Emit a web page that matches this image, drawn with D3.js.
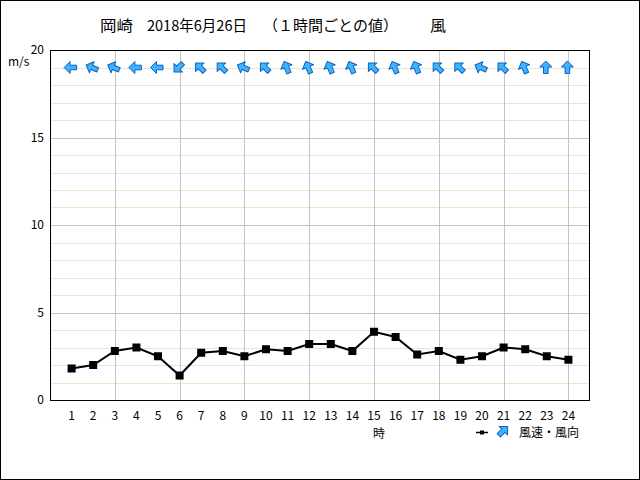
<!DOCTYPE html>
<html><head><meta charset="utf-8">
<script src="https://cdn.jsdelivr.net/npm/d3@7"></script>
<style>body{margin:0;background:#fff}svg{display:block}text{font-family:"Noto Sans CJK JP","DejaVu Sans",sans-serif}</style>
</head><body>
<script>
const hours = d3.range(1, 25);
const speeds = [1.8,2.0,2.8,3.0,2.5,1.4,2.7,2.8,2.5,2.9,2.8,3.2,3.2,2.8,3.9,3.6,2.6,2.8,2.3,2.5,3.0,2.9,2.5,2.3];
const directions = ["E","ESE","ESE","E","E","NE","SE","SE","ESE","SE","SSE","SSE","SSE","SSE","SE","SSE","SSE","SE","SE","ESE","SE","SSE","S","S"];
const yTicks = [0,5,10,15,20];
const compass = ["N","NNE","NE","ENE","E","ESE","SE","SSE","S","SSW","SW","WSW","W","WNW","NW","NNW"];
const titleParts = [["岡崎",100,33],["2018年6月26日",147,100],["（１時間ごとの値）",263,135],["風",430,16]];

const W=640,H=480, L=50,R=590,T=50,B=400;
const svg = d3.select("body").append("svg").attr("width",W).attr("height",H);
svg.append("rect").attr("x",0.5).attr("y",0.5).attr("width",W-1).attr("height",H-1).attr("fill","#fff").attr("stroke","#000");

const x = d3.scaleLinear().domain([0,25]).range([L,R]);
const y = d3.scaleLinear().domain([0,20]).range([B,T]);

// minor grid
const g = svg.append("g");
g.selectAll(".mn").data(d3.range(1,20).filter(v=>v%5)).enter().append("line")
 .attr("x1",L).attr("x2",R).attr("y1",d=>Math.round(y(d))+0.5).attr("y2",d=>Math.round(y(d))+0.5)
 .attr("stroke","#eee4c8");
g.selectAll(".mj").data([5,10,15]).enter().append("line")
 .attr("x1",L).attr("x2",R).attr("y1",d=>Math.round(y(d))+0.5).attr("y2",d=>Math.round(y(d))+0.5)
 .attr("stroke","#c4c4c4");
g.selectAll(".vx").data(hours.filter(h=>h%3===0)).enter().append("line")
 .attr("y1",T).attr("y2",B).attr("x1",d=>Math.round(x(d))+0.5).attr("x2",d=>Math.round(x(d))+0.5)
 .attr("stroke","#c4c4c4");

svg.append("rect").attr("x",L+0.5).attr("y",T+0.5).attr("width",R-L-1).attr("height",B-T).attr("fill","none").attr("stroke","#000");

// axes labels
svg.selectAll(".yt").data(yTicks).enter().append("text")
 .attr("x",44).attr("y",d=>y(d)+4).attr("text-anchor","end").attr("font-size",12).text(d=>d);
svg.append("text").attr("x",8).attr("y",66).attr("font-size",12).text("m/s");
svg.selectAll(".xt").data(hours).enter().append("text")
 .attr("x",d=>x(d)).attr("y",420).attr("text-anchor","middle").attr("font-size",12).text(d=>d);
svg.append("text").attr("x",379).attr("y",438).attr("text-anchor","middle").attr("font-size",12).text("時");

// title
svg.selectAll(".tt").data(titleParts).enter().append("text")
 .attr("x",d=>d[1]).attr("y",31).attr("font-size",15)
 .attr("textLength",d=>d[2]).attr("lengthAdjust","spacingAndGlyphs").text(d=>d[0]);

// line
const line = d3.line().x((d,i)=>x(hours[i])).y(d=>y(d));
svg.append("path").datum(speeds).attr("d",line).attr("fill","none").attr("stroke","#000").attr("stroke-width",2);
svg.selectAll(".pt").data(speeds).enter().append("rect")
 .attr("x",(d,i)=>x(hours[i])-4).attr("y",d=>y(d)-4).attr("width",8).attr("height",8).attr("fill","#000");

// arrows
const arrowPath = "M0,-6.5 L6,-0.5 L2.3,-0.5 L2.3,6 L-2.3,6 L-2.3,-0.5 L-6,-0.5 Z";
const toDeg = d => compass.indexOf(d)*22.5 + 180;
svg.selectAll(".ar").data(directions).enter().append("path")
 .attr("d",arrowPath)
 .attr("transform",(d,i)=>`translate(${x(hours[i])-1},${y(19)}) rotate(${toDeg(d)})`)
 .attr("fill","#3cb4ff").attr("stroke","#1060c0").attr("stroke-width",1).attr("stroke-linejoin","round");

// legend
svg.append("line").attr("x1",476).attr("x2",488).attr("y1",432.5).attr("y2",432.5).attr("stroke","#000").attr("stroke-width",1.5);
svg.append("rect").attr("x",480).attr("y",430.5).attr("width",4).attr("height",4).attr("fill","#000");
svg.append("path").attr("d",arrowPath).attr("transform","translate(503,431) rotate(45)")
 .attr("fill","#3cb4ff").attr("stroke","#1060c0").attr("stroke-width",1).attr("stroke-linejoin","round");
svg.append("text").attr("x",519).attr("y",437).attr("font-size",12).text("風速・風向");
</script>
</body></html>
